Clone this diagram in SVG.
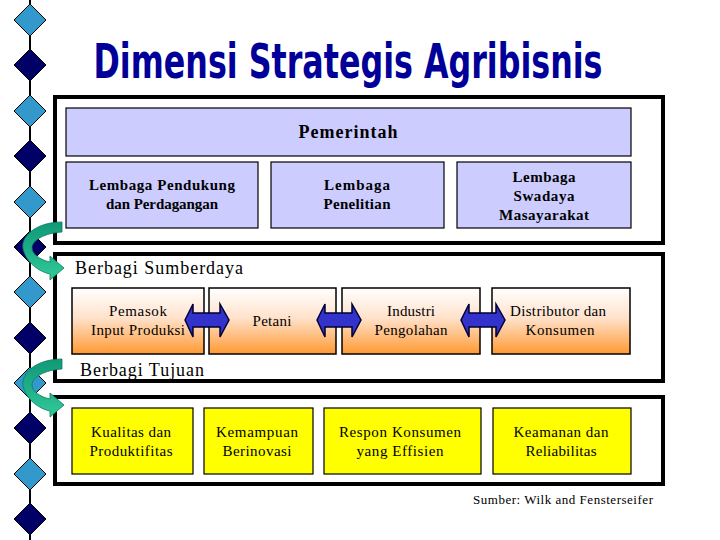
<svg xmlns="http://www.w3.org/2000/svg" width="720" height="540" viewBox="0 0 720 540">
<defs>
<style>
.frame{fill:none;stroke:#000;stroke-width:4}
.blue{fill:#CCCCFF;stroke:#000;stroke-width:1.2}
.orange{fill:url(#og);stroke:#000;stroke-width:1.5}
.yellow{fill:#FFFF00;stroke:#000;stroke-width:1.2}
.t{font-family:'Times New Roman','Liberation Serif',Times,serif;fill:#000;text-anchor:middle}
.s{text-anchor:start}
.b{font-weight:bold}
.dl{fill:#3399CC;stroke:#000;stroke-width:1}
.dd{fill:#000066;stroke:#000;stroke-width:1}
.dbl{fill:#3333CC;stroke:#000033;stroke-width:1.5}
.curve{fill:url(#gg);stroke:#0D7A5E;stroke-width:0.8}
</style>
<linearGradient id="og" x1="0" y1="0" x2="0" y2="1">
<stop offset="0" stop-color="#FFFFFF"/>
<stop offset="0.45" stop-color="#FFE2CC"/>
<stop offset="1" stop-color="#FF9933"/>
</linearGradient>
<linearGradient id="gg" x1="0" y1="0" x2="0" y2="1">
<stop offset="0" stop-color="#119977"/>
<stop offset="0.5" stop-color="#1FAF88"/>
<stop offset="1" stop-color="#33CC99"/>
</linearGradient>
<polygon id="dia" points="0,-16 16,0 0,16 -16,0"/>
</defs>
<rect width="720" height="540" fill="#fff"/>

<g id="sidebar">
<line x1="30" y1="0" x2="30" y2="540" stroke="#000" stroke-width="2"/>
<use href="#dia" class="dl" x="30" y="20"/>
<use href="#dia" class="dd" x="30" y="65"/>
<use href="#dia" class="dl" x="30" y="111"/>
<use href="#dia" class="dd" x="30" y="156"/>
<use href="#dia" class="dl" x="30" y="202"/>
<use href="#dia" class="dd" x="30" y="247"/>
<use href="#dia" class="dl" x="30" y="292"/>
<use href="#dia" class="dd" x="30" y="338"/>
<use href="#dia" class="dl" x="30" y="383"/>
<use href="#dia" class="dd" x="30" y="428"/>
<use href="#dia" class="dl" x="30" y="474"/>
<use href="#dia" class="dd" x="30" y="519"/>
</g>

<g id="title">
<text transform="translate(348,78) scale(1,1.22)" x="0" y="0" text-anchor="middle" font-family="'DejaVu Sans Condensed','Liberation Sans Narrow','DejaVu Sans',sans-serif" font-weight="bold" font-size="39" fill="#000099" textLength="509" lengthAdjust="spacingAndGlyphs">Dimensi Strategis Agribisnis</text>
</g>

<g id="frames">
<rect class="frame" x="55" y="97" width="608" height="146"/>
<rect class="frame" x="55" y="254" width="608" height="127"/>
<rect class="frame" x="55" y="397" width="608" height="87"/>
</g>

<g id="pemerintah">
<rect class="blue" x="66" y="108" width="565" height="48"/>
<text class="t b" x="348" y="138" font-size="18" textLength="99">Pemerintah</text>
</g>
<g id="lembaga-pendukung">
<rect class="blue" x="66" y="162" width="192" height="66"/>
<text class="t b" x="162" y="190" font-size="15" textLength="146">Lembaga Pendukung</text>
<text class="t b" x="162" y="209" font-size="15" textLength="112">dan Perdagangan</text>
</g>
<g id="lembaga-penelitian">
<rect class="blue" x="271" y="162" width="173" height="66"/>
<text class="t b" x="357" y="190" font-size="15" textLength="66">Lembaga</text>
<text class="t b" x="357" y="209" font-size="15" textLength="67">Penelitian</text>
</g>
<g id="lembaga-swadaya">
<rect class="blue" x="457" y="162" width="174" height="66"/>
<text class="t b" x="544" y="182" font-size="15" textLength="63">Lembaga</text>
<text class="t b" x="544" y="201" font-size="15" textLength="61">Swadaya</text>
<text class="t b" x="544" y="220" font-size="15" textLength="90">Masayarakat</text>
</g>

<g id="label-sumberdaya">
<text class="t s" x="75" y="274" font-size="18" textLength="168">Berbagi Sumberdaya</text>
</g>

<g id="pemasok">
<rect class="orange" x="72" y="288" width="132" height="66"/>
<text class="t" x="138" y="316" font-size="15" textLength="58">Pemasok</text>
<text class="t" x="138" y="335" font-size="15" textLength="94">Input Produksi</text>
</g>
<g id="petani">
<rect class="orange" x="209" y="288" width="127" height="66"/>
<text class="t" x="272" y="326" font-size="15" textLength="39">Petani</text>
</g>
<g id="industri">
<rect class="orange" x="342" y="288" width="138" height="66"/>
<text class="t" x="411" y="316" font-size="15" textLength="48">Industri</text>
<text class="t" x="411" y="335" font-size="15" textLength="73">Pengolahan</text>
</g>
<g id="distributor">
<rect class="orange" x="492" y="288" width="138" height="66"/>
<text class="t" x="558" y="316" font-size="15" textLength="96">Distributor dan</text>
<text class="t" x="560" y="335" font-size="15" textLength="69">Konsumen</text>
</g>

<g id="label-tujuan">
<text class="t s" x="80" y="376" font-size="18" textLength="124">Berbagi Tujuan</text>
</g>

<g id="kualitas">
<rect class="yellow" x="72" y="408" width="121" height="66"/>
<text class="t" x="131" y="437" font-size="15" textLength="80">Kualitas dan</text>
<text class="t" x="131" y="456" font-size="15" textLength="83">Produktifitas</text>
</g>
<g id="kemampuan">
<rect class="yellow" x="204" y="408" width="109" height="66"/>
<text class="t" x="257" y="437" font-size="15" textLength="82">Kemampuan</text>
<text class="t" x="257" y="456" font-size="15" textLength="69">Berinovasi</text>
</g>
<g id="respon">
<rect class="yellow" x="324" y="408" width="157" height="66"/>
<text class="t" x="400" y="437" font-size="15" textLength="122">Respon Konsumen</text>
<text class="t" x="400" y="456" font-size="15" textLength="87">yang Effisien</text>
</g>
<g id="keamanan">
<rect class="yellow" x="493" y="408" width="138" height="66"/>
<text class="t" x="561" y="437" font-size="15" textLength="95">Keamanan dan</text>
<text class="t" x="561" y="456" font-size="15" textLength="71">Reliabilitas</text>
</g>

<g id="source">
<text class="t s" x="473" y="504" font-size="13" textLength="180">Sumber: Wilk and Fensterseifer</text>
</g>

<g id="connectors">
<polygon class="dbl" points="185,320 193,304 193,313 220,313 220,304 229,320 220,337 220,327 193,327 193,337"/>
<polygon class="dbl" points="317,320 325,304 325,313 352,313 352,304 361,320 352,337 352,327 325,327 325,337"/>
<polygon class="dbl" points="461,320 469,304 469,313 496,313 496,304 505,320 496,337 496,327 469,327 469,337"/>
<path class="curve" d="M62,222 C35,222 18,238 24,252 C28,264 40,272 50,274 L50,280 L64,268 L50,256 L50,262 C40,260 32,254 32,248 C32,240 45,233 62,232 Z"/>
<path class="curve" d="M62,359 C35,359 18,375 24,389 C28,401 40,409 50,411 L50,417 L64,405 L50,393 L50,399 C40,397 32,391 32,385 C32,377 45,370 62,369 Z"/>
</g>
</svg>
